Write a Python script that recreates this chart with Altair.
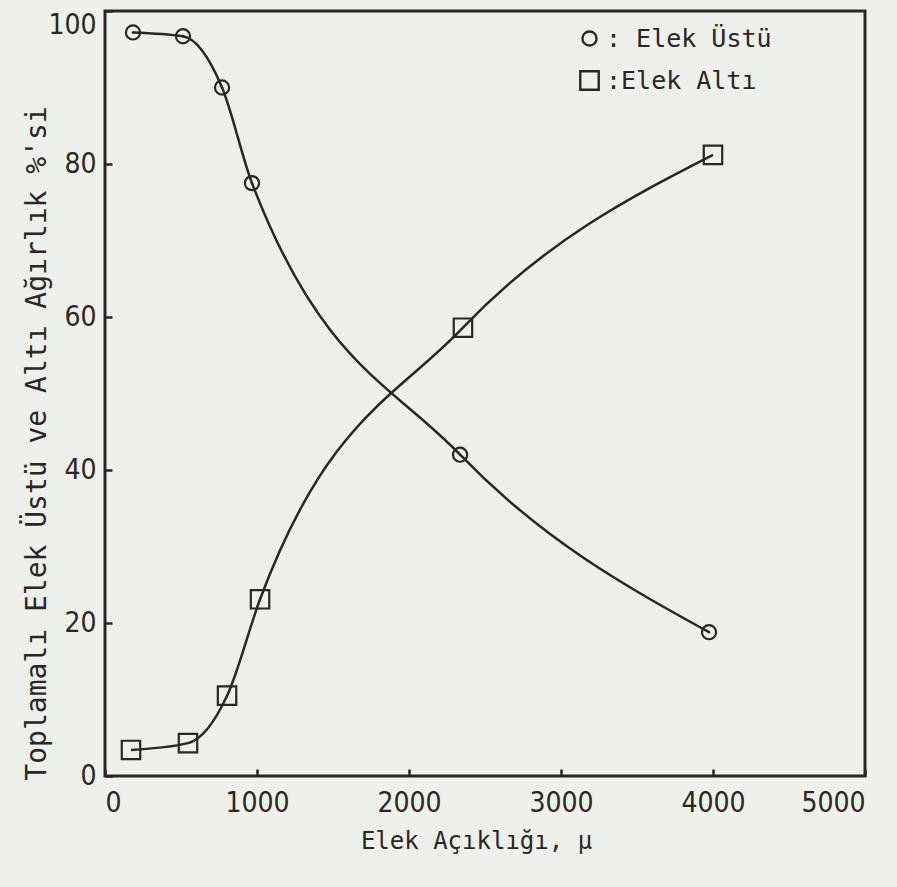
import altair as alt
import pandas as pd

# Elek Üstü (circles)
ust_x = [184, 513, 770, 967, 2336, 3974]
ust_y = [97.2, 96.7, 90.0, 77.5, 42.0, 18.8]
# Elek Altı (squares)
alt_x = [171, 546, 803, 1020, 2355, 4000]
alt_y = [3.4, 4.3, 10.5, 23.1, 58.6, 81.2]

series_names = ["Elek Üstü", "Elek Altı"]
x_ticks = [0, 1000, 2000, 3000, 4000, 5000]
y_ticks = [0, 20, 40, 60, 80, 100]

df = pd.DataFrame(
    [{"x": a, "y": b, "s": series_names[0]} for a, b in zip(ust_x, ust_y)]
    + [{"x": a, "y": b, "s": series_names[1]} for a, b in zip(alt_x, alt_y)]
)

INK = "#2b2622"
NUM_FONT = "DejaVu Sans Condensed"
TXT_FONT = "DejaVu Sans Mono"

x_enc = alt.X(
    "x:Q",
    scale=alt.Scale(domain=[0, 5000], nice=False),
    axis=alt.Axis(
        values=x_ticks, format="d", title="Elek Açıklığı, μ", domain=False,
        grid=False, offset=-7, tickSize=7, tickWidth=2.5, tickColor=INK,
        labelPadding=13, labelFontSize=28, labelColor=INK, labelFont=NUM_FONT,
        titleFont=TXT_FONT, titleFontSize=24, titleColor=INK, titleFontWeight="normal",
        titlePadding=12, titleX=371,
    ),
)
y_enc = alt.Y(
    "y:Q",
    scale=alt.Scale(domain=[0, 100], nice=False),
    axis=alt.Axis(
        values=y_ticks, format="d",
        title="Toplamalı Elek Üstü ve Altı Ağırlık %'si", domain=False,
        grid=False, offset=-7, tickSize=7, tickWidth=2.5, tickColor=INK,
        labelPadding=9, labelFontSize=28, labelColor=INK, labelFont=NUM_FONT,
        labelBaseline=alt.condition("datum.value == 100", alt.value("top"), alt.value("middle")),
        titleFont=TXT_FONT, titleFontSize=28, titleColor=INK, titleFontWeight="normal",
        titleX=-75, titleY=432, titleBaseline="middle", titleAngle=-90,
        titleAlign="center",
    ),
)

lines = alt.Chart(df).mark_line(
    interpolate="monotone", color=INK, strokeWidth=2.5
).encode(x=x_enc, y=y_enc, detail="s:N")

leg = alt.Legend(
    title=None, orient="none", legendX=472, legendY=15,
    labelFont=TXT_FONT, labelFontSize=25, labelColor=INK, labelLimit=400,
    labelExpr="datum.label == 'Elek Üstü' ? ': Elek Üstü' : ':Elek Altı'",
    symbolStrokeWidth=2.4, symbolStrokeColor=INK,
    symbolFillColor="transparent", rowPadding=14, labelOffset=4,
)

points = alt.Chart(df).mark_point(
    filled=False, color=INK, strokeWidth=2.2, opacity=1
).encode(
    x="x:Q",
    y="y:Q",
    size=alt.Size("s:N", scale=alt.Scale(domain=series_names, range=[200, 340]), legend=leg),
    shape=alt.Shape(
        "s:N",
        scale=alt.Scale(domain=series_names, range=["circle", "square"]),
        legend=leg,
    ),
)

dots = alt.Chart(df[df["s"] == series_names[0]]).mark_point(
    filled=True, color=INK, size=6, opacity=1
).encode(x="x:Q", y="y:Q")

chart = (
    alt.layer(lines, points, dots)
    .properties(
        width=760, height=765,
        background="#eef0ec",
        padding={"left": 105, "top": 11, "right": 32, "bottom": 111},
        autosize=alt.AutoSizeParams(type="none"),
    )
    .configure_view(stroke=INK, strokeWidth=3, fill="#eef0ec")
)

chart.save("out.html", embed_options={"renderer": "svg", "actions": False})
